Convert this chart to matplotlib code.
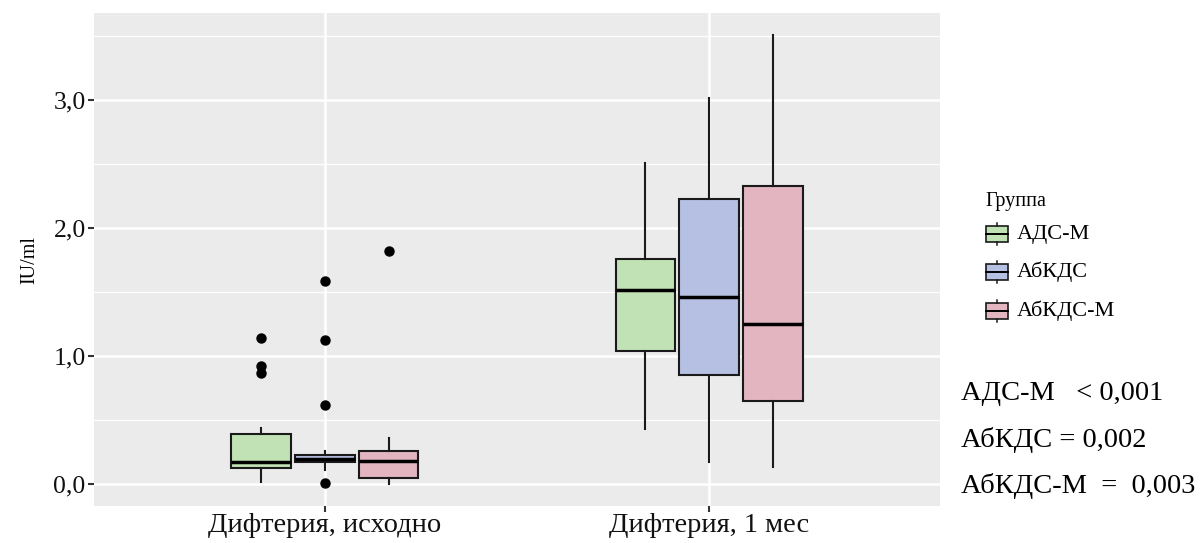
import numpy as np
import matplotlib
matplotlib.use('Agg')
import matplotlib.pyplot as plt
from matplotlib.patches import Rectangle
from matplotlib.lines import Line2D

# Data
timepoints = ['Дифтерия, исходно', 'Дифтерия, 1 мес']
groups = ['АДС-М', 'АбКДС', 'АбКДС-М']
colors = ['#c1e2b5', '#b5c0e2', '#e2b5c0']

# per group: [baseline, 1 month]
whislo = {'АДС-М': [0.02, 0.43], 'АбКДС': [0.11, 0.17], 'АбКДС-М': [0.00, 0.135]}
q1     = {'АДС-М': [0.13, 1.04], 'АбКДС': [0.17, 0.85], 'АбКДС-М': [0.05, 0.65]}
med    = {'АДС-М': [0.17, 1.52], 'АбКДС': [0.195, 1.46], 'АбКДС-М': [0.18, 1.25]}
q3     = {'АДС-М': [0.39, 1.76], 'АбКДС': [0.23, 2.23], 'АбКДС-М': [0.26, 2.33]}
whishi = {'АДС-М': [0.44, 2.51], 'АбКДС': [0.26, 3.02], 'АбКДС-М': [0.36, 3.51]}
fliers = {'АДС-М': [[1.14, 0.92, 0.87], []],
          'АбКДС': [[1.59, 1.13, 0.62, 0.01], []],
          'АбКДС-М': [[1.82], []]}

pvals = ['АДС-М   < 0,001', 'АбКДС = 0,002', 'АбКДС-М  =  0,003']

plt.rcParams['font.family'] = ['Liberation Serif', 'DejaVu Serif']

W, H = 1203, 543
fig = plt.figure(figsize=(W / 100, H / 100), dpi=100)
ax = fig.add_axes([94 / W, 1 - 506 / H, (940 - 94) / W, (506 - 13) / H])
ax.set_facecolor('#ebebeb')
for s in ax.spines.values():
    s.set_visible(False)

offsets = [-0.166, 0.0, 0.166]
for gi, g in enumerate(groups):
    stats = []
    for ti in range(len(timepoints)):
        stats.append(dict(med=med[g][ti], q1=q1[g][ti], q3=q3[g][ti],
                          whislo=whislo[g][ti], whishi=whishi[g][ti],
                          fliers=fliers[g][ti]))
    pos = [ti + 1 + offsets[gi] for ti in range(len(timepoints))]
    ax.bxp(stats, positions=pos, widths=0.155, patch_artist=True,
           showcaps=False, manage_ticks=False,
           boxprops=dict(facecolor=colors[gi], edgecolor='#1a1a1a', linewidth=1.5),
           medianprops=dict(color='black', linewidth=2.5),
           whiskerprops=dict(color='#1a1a1a', linewidth=1.5),
           flierprops=dict(marker='o', markerfacecolor='black', markeredgecolor='black',
                           markersize=6.5, linestyle='none'),
           zorder=3)

ax.set_xlim(0.4, 2.6)
ax.set_ylim(-0.17, 3.68)
ax.set_xticks([1, 2])
ax.set_xticklabels(timepoints, fontsize=20.5, color='#111111')
ax.set_yticks([0, 1, 2, 3])
ax.set_yticklabels(['0,0', '1,0', '2,0', '3,0'], fontsize=18.5, color='#111111')
ax.set_yticks([0.5, 1.5, 2.5, 3.5], minor=True)
ax.tick_params(axis='both', which='major', length=4, width=1.5, color='#333333', pad=2)
ax.tick_params(axis='x', which='major', pad=1)
ax.tick_params(axis='y', which='minor', length=0)
ax.grid(True, which='major', color='white', linewidth=1.8, zorder=0)
ax.grid(True, which='minor', axis='y', color='white', linewidth=0.9, zorder=0)
ax.set_axisbelow(True)
ax.set_ylabel('IU/ml', fontsize=14.5, labelpad=10)


def fx(px):
    return px / W


def fy(py):
    return 1 - py / H


# legend
fig.text(fx(985), fy(201), 'Группа', fontsize=14.5, va='center', ha='left')
key_y = [234, 272, 311]
for gi, g in enumerate(groups):
    yc = key_y[gi]
    fig.add_artist(Rectangle((fx(986), fy(yc + 8)), 22 / W, 16 / H, transform=fig.transFigure,
                             facecolor=colors[gi], edgecolor='#1a1a1a', linewidth=1.2))
    fig.add_artist(Line2D([fx(986), fx(1008)], [fy(yc), fy(yc)], transform=fig.transFigure,
                          color='black', linewidth=1.4))
    fig.add_artist(Line2D([fx(997), fx(997)], [fy(yc - 11), fy(yc - 8)], transform=fig.transFigure,
                          color='#1a1a1a', linewidth=1.1))
    fig.add_artist(Line2D([fx(997), fx(997)], [fy(yc + 8), fy(yc + 11)], transform=fig.transFigure,
                          color='#1a1a1a', linewidth=1.1))
    fig.text(fx(1017), fy(yc), g, fontsize=16, va='center', ha='left')

# p-values
p_y = [393, 440, 486]
for i, t in enumerate(pvals):
    fig.text(fx(961), fy(p_y[i]), t, fontsize=20.5, va='center', ha='left')

fig.savefig('out.png', dpi=100)
